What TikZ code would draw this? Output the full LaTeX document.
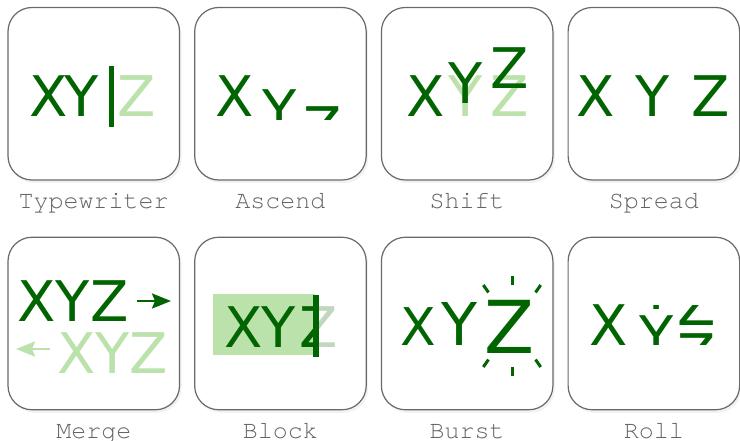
\documentclass[tikz,border=0pt]{standalone}
\usepackage{fontspec}
\newfontfamily\glyphfont{DejaVu Sans}
\newfontfamily\captionfont{texgyrecursor}[Extension=.otf, UprightFont=*-regular]
\usetikzlibrary{arrows.meta,shadows}
\definecolor{leafdark}{RGB}{0,100,0}
\definecolor{leaflight}{RGB}{187,226,171}
\definecolor{framegray}{RGB}{105,105,105}
\definecolor{capgray}{RGB}{100,100,100}
\tikzset {
  >=Stealth,
  panel/.style={draw=framegray, line width=1.2pt, fill=white,
    rounded corners=24pt, minimum width=171.5pt, minimum height=172.5pt,
    drop shadow={opacity=0.10, shadow xshift=2pt, shadow yshift=-3pt}},
  glyph/.style={font=\glyphfont\fontsize{#1}{#1}\selectfont, inner sep=0pt,
    anchor=base, text=leafdark},
  glyph/.default=56,
  faded/.style={text=leaflight},
  caption/.style={font=\captionfont\fontsize{25}{25}\selectfont,
    text=capgray, anchor=base, inner sep=0pt},
  slide/.style={-{Stealth[length=19pt,width=15pt,inset=3pt]}, line width=2.6pt},
}

\begin{document}
\begin{tikzpicture}[x=1pt,y=-1pt]
  \useasboundingbox (0,0) rectangle (740,441);
  % panels and their captions
  \foreach \name/\col/\row/\txt in {typewriter/0/0/Typewriter, ascend/1/0/Ascend,
      shift/2/0/Shift, spread/3/0/Spread, merge/0/1/Merge, block/1/1/Block,
      burst/2/1/Burst, roll/3/1/Roll} {
    \node[panel] (\name) at ({93.75+186.7*\col},{93.75+229.75*\row}) {};
    \node[caption, yshift=-28pt] (\name-cap) at (\name.south) {\txt};
  }
  % typewriter
  \node[glyph] (tw-x) at (48.5,117) {X};
  \node[glyph] (tw-y) at (81.5,117) {Y};
  \fill[leafdark] (109,66) rectangle (114,127);
  \node[glyph,faded] (tw-z) at (136.5,117) {Z};
  % ascend
  \node[glyph] (as-x) at (234.5,117) {X};
  \begin{scope}
    \clip (194,0) rectangle (367,120);
    \node[glyph] (as-y) at (280,131) {Y};
    \node[glyph] (as-z) at (323,148) {Z};
  \end{scope}
  % shift
  \node[glyph,faded] (sh-y0) at (466,117) {Y};
  \node[glyph,faded] (sh-z0) at (510,117) {Z};
  \node[glyph] (sh-x) at (426,117) {X};
  \node[glyph] (sh-y) at (466,104) {Y};
  \node[glyph] (sh-z) at (510,89) {Z};
  % spread
  \node[glyph] (sp-x) at (595.5,117) {X};
  \node[glyph] (sp-y) at (652.5,117) {Y};
  \node[glyph] (sp-z) at (711,117) {Z};
  % merge
  \node[glyph] (mg-top) at (73,322) {XYZ};
  \node[glyph,faded] (mg-bot) at (112.5,373) {XYZ};
  \coordinate (mg-r0) at (137,301);
  \coordinate (mg-r1) at (171,301);
  \coordinate (mg-l0) at (50,349);
  \coordinate (mg-l1) at (16,349);
  \draw[slide,leafdark] (mg-r0) -- (mg-r1);
  \draw[slide,leaflight] (mg-l0) -- (mg-l1);
  % block
  \fill[leaflight] (213,294) rectangle (315,355);
  \node[glyph,text=leafdark!25] (bk-z0) at (318.5,347) {Z};
  \begin{scope}
    \clip (213,294) rectangle (315,355);
    \node[glyph] (bk-x) at (244,347) {X};
    \node[glyph] (bk-y) at (279,347) {Y};
    \node[glyph] (bk-z) at (318.5,347) {Z};
  \end{scope}
  \fill[leafdark] (313,295) rectangle (319,357);
  % burst
  \node[glyph=52] (bu-x) at (418.5,345) {X};
  \node[glyph=59] (bu-y) at (459.5,345) {Y};
  \node[glyph=73] (bu-z) at (510,353) {Z};
  \foreach \a in {90,55,125,270,235,305}
    \draw[leafdark,line width=3pt,shift={(512,326)}] (\a:41) -- (\a:50);
  % roll
  \node[glyph] (rl-x) at (608.5,345) {X};
  \begin{scope}
    \clip (568,305) rectangle (739,344);
    \node[glyph] (rl-y0) at (656.5,309) {Y};
    \node[glyph] (rl-y) at (656.5,356) {Y};
    \node[glyph] (rl-z0) at (697,325) {Z};
    \node[glyph] (rl-z) at (697,374) {Z};
  \end{scope}
\end{tikzpicture}
\end{document}
